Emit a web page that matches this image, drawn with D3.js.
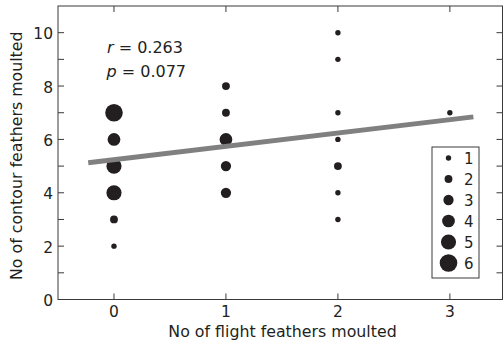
<!DOCTYPE html>
<html lang="en">
<head>
<meta charset="UTF-8">
<title>Contour vs flight feathers moulted</title>
<script src="https://d3js.org/d3.v7.min.js"></script>
<style>
  body { margin: 0; background: #fff; }
  text { font-family: "DejaVu Sans", Verdana, sans-serif; fill: #231f20; }
</style>
</head>
<body>
<div id="chart"></div>
<script>
// data: each point is (flight feathers, contour feathers, number of birds)
const flightMoulted  = [0, 0, 0, 0, 0, 0, 1, 1, 1, 1, 1, 2, 2, 2, 2, 2, 2, 2, 3];
const contourMoulted = [7, 6, 5, 4, 3, 2, 8, 7, 6, 5, 4, 10, 9, 7, 6, 5, 4, 3, 7];
const birdCount      = [6, 4, 5, 5, 2, 1, 2, 2, 4, 3, 3, 1, 1, 1, 1, 2, 1, 1, 1];

const legendCounts = [1, 2, 3, 4, 5, 6];
const xTicks = [0, 1, 2, 3];
const yTicks = [0, 1, 2, 3, 4, 5, 6, 7, 8, 9, 10];
const yLabelled = [0, 2, 4, 6, 8, 10];

// fitted line
const fitX = [-0.23, 3.21];
const fitIntercept = 5.24;
const fitSlope = 0.5;

const width = 503, height = 344;
const plotLeft = 58, plotRight = 502.5, plotTop = 6, plotBottom = 299.5;
const ink = "#231f20";

const svg = d3.select("#chart").append("svg")
    .attr("width", width)
    .attr("height", height);

const x = d3.scaleLinear().domain([-0.5, 3.47]).range([plotLeft, plotRight]);
const y = d3.scaleLinear().domain([0, 11]).range([plotBottom, plotTop]);
const r = d3.scaleLinear().domain([1, 6]).range([2.7, 8.8]);

// frame with inward ticks
svg.append("rect")
    .attr("x", plotLeft).attr("y", plotTop)
    .attr("width", plotRight - plotLeft).attr("height", plotBottom - plotTop)
    .attr("fill", "none").attr("stroke", "#3a3a3a").attr("stroke-width", 1);

const tickLen = 6;
svg.append("g").selectAll("line").data(yTicks.filter(d => d > 0)).join("line")
    .attr("x1", plotLeft).attr("x2", plotLeft + tickLen)
    .attr("y1", d => y(d)).attr("y2", d => y(d))
    .attr("stroke", "#3a3a3a");
svg.append("g").selectAll("line").data(yTicks.filter(d => d > 0)).join("line")
    .attr("x1", plotRight - tickLen).attr("x2", plotRight)
    .attr("y1", d => y(d)).attr("y2", d => y(d))
    .attr("stroke", "#3a3a3a");
svg.append("g").selectAll("line").data(xTicks).join("line")
    .attr("x1", d => x(d)).attr("x2", d => x(d))
    .attr("y1", plotBottom).attr("y2", plotBottom - tickLen)
    .attr("stroke", "#3a3a3a");
svg.append("g").selectAll("line").data(xTicks).join("line")
    .attr("x1", d => x(d)).attr("x2", d => x(d))
    .attr("y1", plotTop).attr("y2", plotTop + tickLen)
    .attr("stroke", "#3a3a3a");

// tick labels
svg.append("g").selectAll("text").data(yLabelled).join("text")
    .attr("x", plotLeft - 5).attr("y", d => y(d) + 6.5)
    .attr("text-anchor", "end")
    .style("font-size", "15.5px")
    .text(d => d);
svg.append("g").selectAll("text").data(xTicks).join("text")
    .attr("x", d => x(d)).attr("y", 317)
    .attr("text-anchor", "middle")
    .style("font-size", "15.5px")
    .text(d => d);

// axis titles
svg.append("text")
    .attr("x", 282.5).attr("y", 337)
    .attr("text-anchor", "middle")
    .style("font-size", "15.8px")
    .text("No of flight feathers moulted");
svg.append("text")
    .attr("transform", "translate(21.5,280) rotate(-90)")
    .attr("text-anchor", "start")
    .style("font-size", "15.8px")
    .text("No of contour feathers moulted");

// points
const pts = flightMoulted.map((d, i) => ({ fx: d, cy: contourMoulted[i], n: birdCount[i] }));
svg.append("g").selectAll("circle").data(pts).join("circle")
    .attr("cx", d => x(d.fx))
    .attr("cy", d => y(d.cy))
    .attr("r", d => r(d.n))
    .attr("fill", ink);

// regression line
svg.append("line")
    .attr("x1", x(fitX[0])).attr("y1", y(fitIntercept + fitSlope * fitX[0]))
    .attr("x2", x(fitX[1])).attr("y2", y(fitIntercept + fitSlope * fitX[1]))
    .attr("stroke", "#808080").attr("stroke-width", 5);

// statistics
const stats = svg.append("g").style("font-size", "16px");
const t1 = stats.append("text").attr("x", 107).attr("y", 52.5);
t1.append("tspan").style("font-style", "italic").text("r");
t1.append("tspan").text(" = 0.263");
const t2 = stats.append("text").attr("x", 106.5).attr("y", 76.5);
t2.append("tspan").style("font-style", "italic").text("p");
t2.append("tspan").text(" = 0.077");

// legend
const lg = svg.append("g");
lg.append("rect")
    .attr("x", 432).attr("y", 147).attr("width", 47).attr("height", 131)
    .attr("fill", "#fff").attr("stroke", "#3a3a3a");
const ly = d3.scaleLinear().domain([1, 6]).range([158, 263]);
lg.selectAll("circle").data(legendCounts).join("circle")
    .attr("cx", 448.5).attr("cy", d => ly(d)).attr("r", d => r(d)).attr("fill", ink);
lg.selectAll("text").data(legendCounts).join("text")
    .attr("x", 464).attr("y", d => ly(d) + 5.5)
    .style("font-size", "15px")
    .text(d => d);
</script>
</body>
</html>
